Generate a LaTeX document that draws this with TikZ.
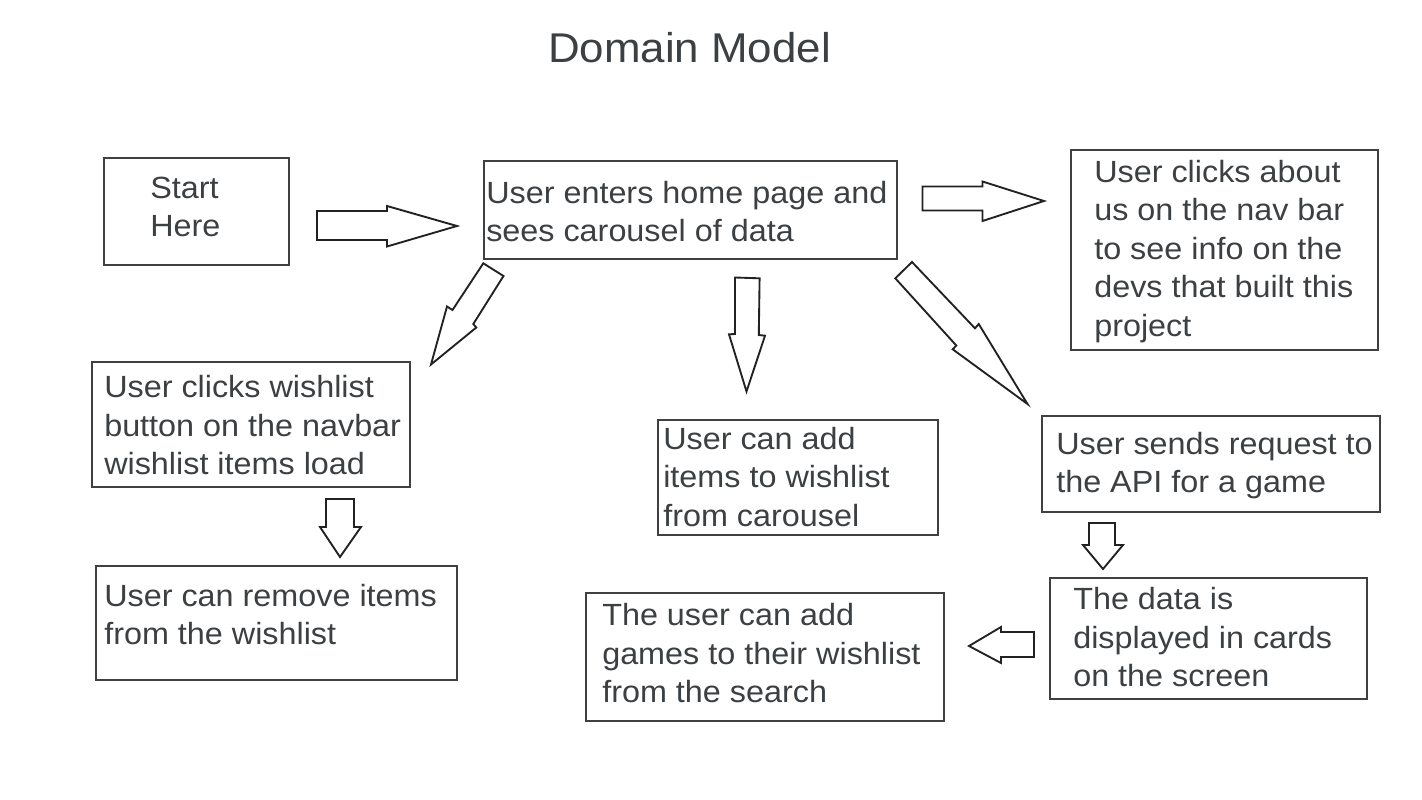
\documentclass[tikz,border=0pt]{standalone}
\usepackage{fontspec}
\setmainfont{Liberation Sans}[FakeStretch=1.055]
\definecolor{txtgray}{RGB}{60,64,67}
\definecolor{boxgray}{RGB}{64,64,64}
\definecolor{arrgray}{RGB}{34,34,34}
\tikzset{
  box/.style={draw=boxgray, line width=1.5pt, fill=white, inner sep=0pt},
  txt/.style={anchor=north west, inner sep=0pt, align=left, text=txtgray,
              font=\fontsize{23}{28.9}\selectfont, yshift=20.23pt},
  blockarr/.style={draw=arrgray, line width=1.4pt, fill=white, line join=miter},
}
\begin{document}
\begin{tikzpicture}[x=0.75pt, y=-0.75pt]
\useasboundingbox (0,0) rectangle (1422,800);
\fill[white] (0,0) rectangle (1422,800);

% title
\node[anchor=base, inner sep=0pt, text=txtgray, font=\fontsize{31.2}{36}\selectfont] (title) at (689.5,62) {Domain Model};

% boxes
\node[box, minimum width=138.75pt, minimum height=80.25pt] (start) at (196.5,211.5) {};
\node[box, minimum width=309.75pt, minimum height=73.5pt] (home) at (690.5,210) {};
\node[box, minimum width=230.25pt, minimum height=150pt] (about) at (1224.5,250) {};
\node[box, minimum width=238.5pt, minimum height=93.75pt] (wish) at (251,424.5) {};
\node[box, minimum width=270.75pt, minimum height=85.5pt] (remove) at (276.5,623) {};
\node[box, minimum width=210pt, minimum height=86.25pt] (carousel) at (798,477.5) {};
\node[box, minimum width=253.5pt, minimum height=72pt] (api) at (1211,464) {};
\node[box, minimum width=237.75pt, minimum height=90.75pt] (data) at (1208.5,638.5) {};
\node[box, minimum width=268.5pt, minimum height=96pt] (search) at (765,657) {};

% texts (placed at first baseline)
\node[txt] (startT) at (150,198) {\strut Start\\\strut Here};
\node[txt] (homeT) at (486,203) {\strut User enters home page and\\\strut sees carousel of data};
\node[txt] (aboutT) at (1094,182) {\strut User clicks about\\\strut us on the nav bar\\\strut to see info on the\\\strut devs that built this\\\strut project};
\node[txt] (wishT) at (104,397.5) {\strut User clicks wishlist\\\strut button on the navbar\\\strut wishlist items load};
\node[txt] (removeT) at (104,606) {\strut User can remove items\\\strut from the wishlist};
\node[txt] (carouselT) at (663,449) {\strut User can add\\\strut items to wishlist\\\strut from carousel};
\node[txt] (apiT) at (1056,454) {\strut User sends request to\\\strut the API for a game};
\node[txt] (dataT) at (1073,609.5) {\strut The data is\\\strut displayed in cards\\\strut on the screen};
\node[txt] (searchT) at (602,625.5) {\strut The user can add\\\strut games to their wishlist\\\strut from the search};

% block arrows
\draw[blockarr] (317,211) -- (387,211) -- (387,206) -- (457,226) -- (387,246.5) -- (387,240) -- (317,240) -- cycle;
\draw[blockarr] (922.5,186.5) -- (982.5,186.5) -- (982.5,181.5) -- (1044,201) -- (982.5,221) -- (982.5,210.5) -- (922.5,210.5) -- cycle;
\draw[blockarr] (483.3,263.3) -- (503.5,276) -- (473.3,324) -- (476.3,327.5) -- (431,364.5) -- (447,306.5) -- (452.5,310) -- cycle;
\draw[blockarr] (735,277.5) -- (759.6,278.3) -- (758.8,335) -- (765,335.7) -- (746.5,391.5) -- (729,334.3) -- (735,334) -- cycle;
\draw[blockarr] (912,262) -- (975,328.3) -- (978.7,324) -- (1027.5,404) -- (952.7,349.3) -- (956.3,345.5) -- (895.3,278.3) -- cycle;
\draw[blockarr] (326,499) -- (354,499) -- (354,527) -- (361,527) -- (340,557) -- (320,527) -- (326,527) -- cycle;
\draw[blockarr] (1089,523) -- (1115,523) -- (1115,545) -- (1123,545) -- (1103,569) -- (1083,545) -- (1089,545) -- cycle;
\draw[blockarr] (1034,632) -- (1001,632) -- (1001,627) -- (969,646) -- (1001,663) -- (1001,657) -- (1034,657) -- cycle;
\end{tikzpicture}
\end{document}
